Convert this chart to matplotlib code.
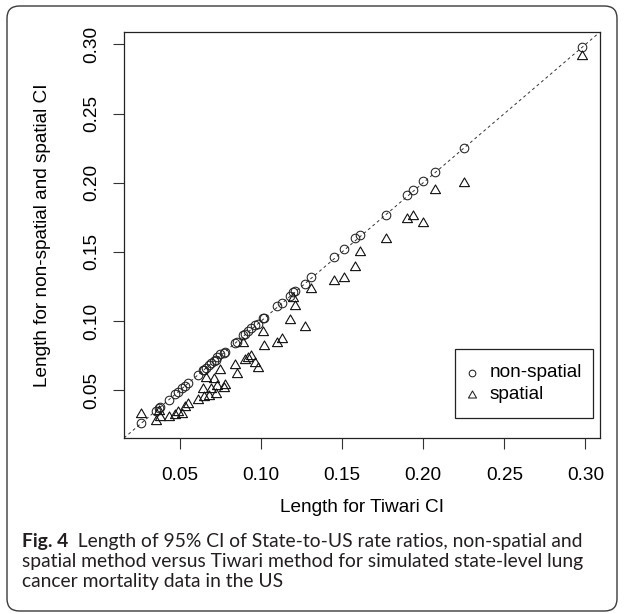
import matplotlib
matplotlib.use("Agg")
import matplotlib.pyplot as plt
from matplotlib.patches import FancyBboxPatch, Rectangle
from matplotlib.path import Path
import numpy as np

# ---- data ----
tiwari = [0.026, 0.035, 0.037, 0.038, 0.043, 0.047, 0.049, 0.051, 0.053, 0.055,
          0.061, 0.064, 0.065, 0.066, 0.068, 0.069, 0.071, 0.072, 0.073, 0.075,
          0.077, 0.078, 0.084, 0.085, 0.089, 0.090, 0.092, 0.094, 0.096, 0.098,
          0.101, 0.102, 0.110, 0.113, 0.118, 0.120, 0.121, 0.127, 0.131, 0.145,
          0.151, 0.158, 0.161, 0.177, 0.190, 0.194, 0.200, 0.207, 0.225, 0.298]
nonspatial = [0.026, 0.035, 0.037, 0.038, 0.043, 0.047, 0.049, 0.052, 0.053, 0.055,
              0.061, 0.065, 0.065, 0.066, 0.068, 0.070, 0.071, 0.072, 0.074, 0.076,
              0.077, 0.078, 0.084, 0.085, 0.090, 0.091, 0.093, 0.095, 0.097, 0.098,
              0.102, 0.102, 0.111, 0.113, 0.118, 0.121, 0.122, 0.127, 0.132, 0.146,
              0.152, 0.160, 0.162, 0.177, 0.191, 0.195, 0.201, 0.208, 0.225, 0.298]
spatial = [0.033, 0.028, 0.035, 0.031, 0.031, 0.032, 0.034, 0.033, 0.038, 0.040,
           0.043, 0.051, 0.045, 0.059, 0.046, 0.051, 0.058, 0.047, 0.053, 0.065,
           0.052, 0.054, 0.068, 0.062, 0.084, 0.072, 0.073, 0.075, 0.070, 0.066,
           0.092, 0.082, 0.084, 0.087, 0.101, 0.117, 0.111, 0.096, 0.123, 0.129,
           0.131, 0.139, 0.150, 0.159, 0.174, 0.176, 0.171, 0.195, 0.200, 0.292]
ticks = [0.05, 0.10, 0.15, 0.20, 0.25, 0.30]
tick_labels = ["0.05", "0.10", "0.15", "0.20", "0.25", "0.30"]
xlabel = "Length for Tiwari CI"
ylabel = "Length for non-spatial and spatial CI"
legend_labels = ["non-spatial", "spatial"]
caption_bold = "Fig. 4"
caption_lines = ["Length of 95% CI of State-to-US rate ratios, non-spatial and",
                 "spatial method versus Tiwari method for simulated state-level lung",
                 "cancer mortality data in the US"]

W, H = 624, 614
DPI = 100
fig = plt.figure(figsize=(W / DPI, H / DPI), dpi=DPI)
plt.rcParams['font.family'] = ['Liberation Sans', 'DejaVu Sans']

def fx(px):
    return px / W

def fy(py):
    return 1 - py / H

# outer rounded frame
frame = FancyBboxPatch((fx(7), fy(611)), fx(617) - fx(7), fy(6) - fy(611),
                       boxstyle="round,pad=0,rounding_size=0.02",
                       transform=fig.transFigure, fill=False,
                       edgecolor='#3a3a3a', linewidth=1.0)
fig.patches.append(frame)

ax = fig.add_axes([fx(124), fy(438), fx(600) - fx(124), fy(32) - fy(438)])
lim = (0.0155, 0.309)
ax.set_xlim(lim)
ax.set_ylim(lim)

tri = Path([(-1.0, -0.62), (1.0, -0.62), (0.0, 1.11), (-1.0, -0.62)],
           [Path.MOVETO, Path.LINETO, Path.LINETO, Path.CLOSEPOLY])

ax.axline((0.1, 0.1), slope=1, color='#333333', lw=0.7, ls=(0, (3, 3)), zorder=1)
ax.plot(tiwari, nonspatial, ls='none', marker='o', ms=6.2, mfc='none',
        mec='#222222', mew=0.75, zorder=3, clip_on=False)
ax.plot(tiwari, spatial, ls='none', marker=tri, ms=8.0, mfc='none',
        mec='#111111', mew=0.8, zorder=3, clip_on=False)

ax.set_xticks(ticks)
ax.set_xticklabels(tick_labels)
ax.set_yticks(ticks)
ax.set_yticklabels(tick_labels, rotation=90, va='center')
ax.tick_params(direction='out', length=8, width=0.8, labelsize=13.7,
               color='#333333')
ax.tick_params(axis='x', pad=13)
ax.tick_params(axis='y', pad=9)
for s in ax.spines.values():
    s.set_linewidth(0.9)
    s.set_color('#222222')

fig.text(fx(362), fy(508), xlabel, ha='center', va='center', fontsize=13.7)
fig.text(fx(43), fy(235), ylabel, ha='center', va='center', rotation=90,
         fontsize=13.7)

# legend box
fig.patches.append(Rectangle((fx(455), fy(418)), fx(593) - fx(455),
                             fy(349) - fy(418), transform=fig.transFigure,
                             fill=False, edgecolor='#222222', lw=0.9))
fig.lines.append(plt.Line2D([fx(471.7)], [fy(372.7)], transform=fig.transFigure,
                            marker='o', ms=4.8, mfc='none', mec='#222222', mew=0.75))
fig.lines.append(plt.Line2D([fx(471.7)], [fy(394.5)], transform=fig.transFigure,
                            marker=tri, ms=6.5, mfc='none', mec='#222222', mew=0.75))
fig.text(fx(490), fy(372.7), legend_labels[0], ha='left', va='center', fontsize=13.7)
fig.text(fx(490), fy(394.5), legend_labels[1], ha='left', va='center', fontsize=13.7)

# caption
cap_font = 'Lato'
renderer = fig.canvas.get_renderer()
base = 12.0
tb = fig.text(fx(22), fy(547), caption_bold, ha='left', va='baseline',
              fontsize=base, fontweight='bold', family=cap_font, color='#231f20')
tr = fig.text(fx(22), fy(547), "  " + caption_lines[0], ha='left', va='baseline',
              fontsize=base, family=cap_font, color='#231f20')
wb = tb.get_window_extent(renderer).width
wr = tr.get_window_extent(renderer).width
size = base * (581 - 22) / (wb + wr)
tb.set_fontsize(size)
tr.set_fontsize(size)
wb = tb.get_window_extent(renderer).width
tr.set_position((fx(22 + wb), fy(547)))
fig.text(fx(22), fy(567), caption_lines[1], ha='left', va='baseline',
         fontsize=size, family=cap_font, color='#231f20')
fig.text(fx(22), fy(587), caption_lines[2], ha='left', va='baseline',
         fontsize=size, family=cap_font, color='#231f20')

fig.savefig("out.png", dpi=DPI)
